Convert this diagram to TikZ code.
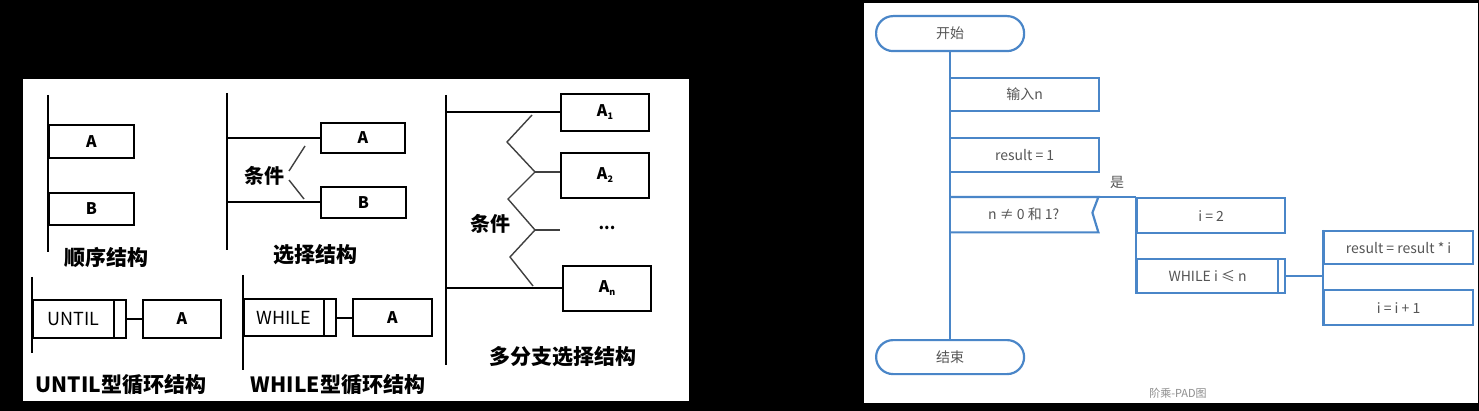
\documentclass[tikz,border=0pt]{standalone}
\usepackage{fontspec}
\setmainfont{Noto Sans CJK SC}
\usetikzlibrary{calc}
\definecolor{padblue}{RGB}{74,134,200}
\definecolor{padtext}{RGB}{85,85,85}
\definecolor{capgray}{RGB}{140,140,140}
\newcommand{\subA}[1]{A{\fontsize{9}{9}\selectfont\raisebox{-3pt}{#1}}}
\begin{document}
\begin{tikzpicture}[x=1pt,y=-1pt,
  lline/.style={draw=black,line width=2pt},
  lthin/.style={draw=black!75,line width=1.4pt},
  lbox/.style={draw=black,line width=2pt,anchor=north west,inner sep=0pt,
    font=\fontsize{16}{16}\selectfont\bfseries},
  lbar/.style={draw=black,line width=2pt,anchor=north west,inner sep=0pt},
  llabel/.style={font=\fontsize{21}{21}\selectfont\bfseries,inner sep=0pt},
  lcond/.style={font=\fontsize{20}{20}\selectfont\bfseries,inner sep=0pt},
  pline/.style={draw=padblue,line width=2.2pt},
  pbox/.style={draw=padblue,line width=2.2pt,anchor=north west,inner sep=0pt,
    text=padtext,font=\fontsize{14}{14}\selectfont},
  pterm/.style={pbox,rounded corners=17pt},
  ptext/.style={text=padtext,font=\fontsize{14}{14}\selectfont,inner sep=0pt}]
\useasboundingbox (0,0) rectangle (1479,411);
\fill[black] (0,0) rectangle (1479,411);
\fill[white] (23,79) rectangle (689,401);
\fill[white] (864,3) rectangle (1478,403);

% ---------- sequential structure
\coordinate (s0) at (48,95);
\coordinate (s1) at (48,252);
\draw[lline] (s0) -- (s1);
\node[lbox,minimum width=85,minimum height=33] (sA) at (48,124) {A};
\node[lbox,minimum width=85,minimum height=32] (sB) at (48,192) {B};
\node[llabel] (seqlbl) at (106,257) {顺序结构};

% ---------- selection structure
\coordinate (c0) at (227,93);
\coordinate (c1) at (227,250);
\draw[lline] (c0) -- (c1);
\node[lbox,minimum width=84,minimum height=30] (cA) at (320,122) {A};
\node[lbox,minimum width=85,minimum height=31] (cB) at (320,186) {B};
\draw[lline] (cA.west -| c0) -- (cA.west);
\draw[lline] (cB.west -| c0) -- (cB.west);
\node[lcond] (cond1) at (264,176) {条件};
\draw[lthin] (289,171) -- (305,146);
\draw[lthin] (289,180) -- (304,199);
\node[llabel] (sellbl) at (315,255) {选择结构};

% ---------- UNTIL loop
\coordinate (u0) at (32,277);
\coordinate (u1) at (32,353);
\draw[lline] (u0) -- (u1);
\node[lbox,minimum width=81,minimum height=38,font=\fontsize{18}{18}\selectfont] (until) at (32,299) {UNTIL};
\node[lbar,minimum width=12,minimum height=38] (untilbar) at (113,299) {};
\node[lbox,minimum width=78,minimum height=38] (uA) at (142,299) {A};
\draw[lline] (untilbar.east) -- (uA.west);
\node[llabel] (untillbl) at (121,385) {UNTIL型循环结构};

% ---------- WHILE loop
\coordinate (w0) at (243,275);
\coordinate (w1) at (243,370);
\draw[lline] (w0) -- (w1);
\node[lbox,minimum width=80,minimum height=37,font=\fontsize{18}{18}\selectfont] (while) at (243,298) {WHILE};
\node[lbar,minimum width=12,minimum height=37] (whilebar) at (323,298) {};
\node[lbox,minimum width=79,minimum height=37] (wA) at (352,298) {A};
\draw[lline] (whilebar.east) -- (wA.west);
\node[llabel] (whilelbl) at (338,385) {WHILE型循环结构};

% ---------- multi-branch selection
\coordinate (m0) at (446,95);
\coordinate (m1) at (446,365);
\draw[lline] (m0) -- (m1);
\node[lbox,minimum width=88,minimum height=37] (mA1) at (560,93) {\subA{1}};
\node[lbox,minimum width=88,minimum height=45] (mA2) at (560,152) {\subA{2}};
\node[lbox,minimum width=88,minimum height=45] (mAn) at (562,265) {\subA{n}};
\node[font=\fontsize{16}{16}\selectfont\bfseries,inner sep=0pt] (mdots) at (607,228) {...};
\draw[lline] (mA1.west -| m0) -- (mA1.west);
\draw[lline] (mAn.west -| m0) -- (mAn.west);
\draw[lthin] (532,115) -- (507,142) -- (535,172) -- (508,199) -- (535,230) -- (510,257) -- (533,286);
\coordinate (z2) at (535,172);
\coordinate (z3) at (535,230);
\coordinate (z3e) at (560,230);
\draw[lthin] (z2) -- (z2 -| mA2.west);
\draw[lthin] (z3) -- (z3e);
\node[lcond] (cond2) at (490,224) {条件};
\node[llabel] (multilbl) at (563,357) {多分支选择结构};

% ---------- PAD of factorial
\node[pterm,minimum width=148,minimum height=35] (start) at (875,15) {开始};
\node[pterm,minimum width=148,minimum height=34] (stop) at (875,339) {结束};
\draw[pline] (start.south) -- (stop.north);
\node[pbox,minimum width=149,minimum height=33] (inp) at (949,77) {输入n};
\node[pbox,minimum width=149,minimum height=34] (res) at (949,137) {result = 1};
\node[ptext,anchor=north west,minimum width=149,minimum height=35] (cond) at (949,197) {n ≠ 0 和 1?};
\node[pbox,minimum width=148,minimum height=35] (i2) at (1136,197) {i = 2};
\draw[pline,line join=miter] (cond.north west) -- (cond.north east) -- ([xshift=-6pt,yshift=2pt]cond.east) -- (cond.south east) -- (cond.south west);
\draw[pline] (cond.north east) -- (i2.north west);
\node[ptext] (yes) at (1117,182) {是};
\node[pbox,minimum width=141,minimum height=34] (wh) at (1136,258) {WHILE i ≤ n};
\node[pbox,minimum width=7,minimum height=34] (whbar) at (1277,258) {};
\draw[pline] (i2.north west) -- (wh.south west);
\node[pbox,minimum width=149,minimum height=33] (rr) at (1323,230) {result = result * i};
\node[pbox,minimum width=149,minimum height=35] (ii) at (1323,289) {i = i + 1};
\draw[pline] (rr.north west) -- (ii.south west);
\draw[pline] (whbar.east) -- (whbar.east -| rr.west);
\node[text=capgray,font=\fontsize{11}{11}\selectfont,inner sep=0pt] (cap) at (1178,393) {阶乘-PAD图};
\end{tikzpicture}
\end{document}
